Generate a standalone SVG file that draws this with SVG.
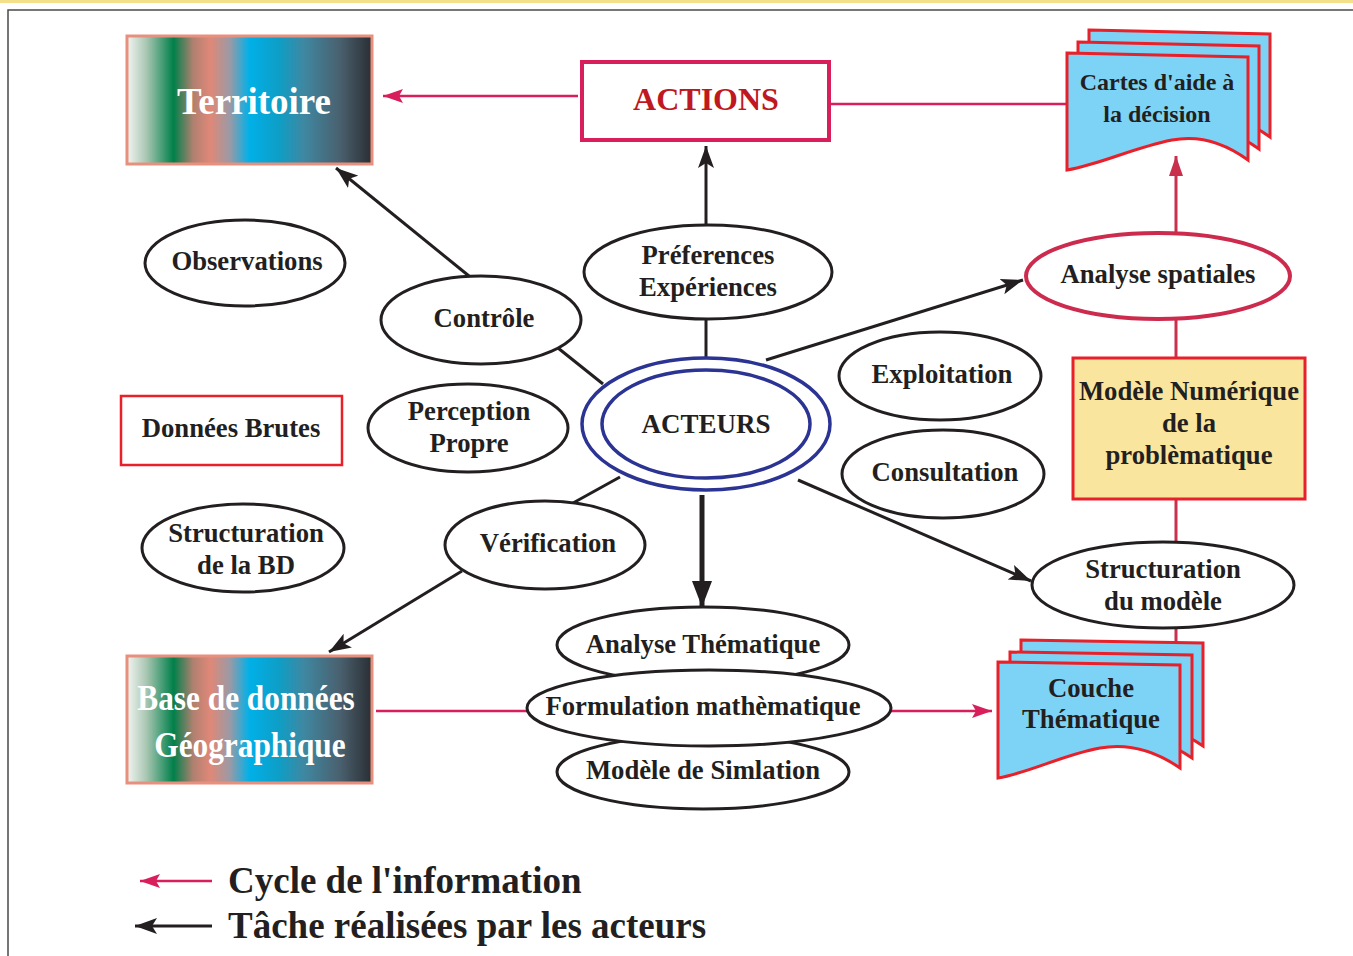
<svg xmlns="http://www.w3.org/2000/svg" width="1353" height="956" viewBox="0 0 1353 956">
<defs>
<linearGradient id="grad" x1="0" y1="0" x2="1" y2="0">
<stop offset="0" stop-color="#f2f5f2"/>
<stop offset="0.08" stop-color="#a8c6b2"/>
<stop offset="0.19" stop-color="#00804a"/>
<stop offset="0.27" stop-color="#b08070"/>
<stop offset="0.34" stop-color="#e08878"/>
<stop offset="0.42" stop-color="#9a9aa6"/>
<stop offset="0.5" stop-color="#00b0e8"/>
<stop offset="0.62" stop-color="#0e9ec6"/>
<stop offset="0.72" stop-color="#3e88a2"/>
<stop offset="0.87" stop-color="#4a606e"/>
<stop offset="1" stop-color="#2a2e33"/>
</linearGradient>
<marker id="ab" markerUnits="userSpaceOnUse" markerWidth="24" markerHeight="18" refX="22" refY="9" orient="auto">
<path d="M0,1 L22,9 L0,17 L5,9 Z" fill="#231f20"/>
</marker>
<marker id="abig" markerUnits="userSpaceOnUse" markerWidth="28" markerHeight="22" refX="26" refY="11" orient="auto">
<path d="M0,1 L26,11 L0,21 Z" fill="#231f20"/>
</marker>
<marker id="ap" markerUnits="userSpaceOnUse" markerWidth="22" markerHeight="16" refX="20" refY="8" orient="auto">
<path d="M0,1 L20,8 L0,15 L4,8 Z" fill="#d81e5b"/>
</marker>
<marker id="ac" markerUnits="userSpaceOnUse" markerWidth="22" markerHeight="18" refX="20" refY="9" orient="auto">
<path d="M0,2 L20,9 L0,16 Z" fill="#c8304e"/>
</marker>
<path id="sheetC" d="M1067,53 L1248,57 L1248,160 C1222,141 1198,135 1172,140 C1132,148 1102,164 1067,170 Z"/>
<path id="sheetT" d="M998,662 L1180,665 L1180,768 C1154,750 1128,743 1100,748 C1062,755 1032,772 998,778 Z"/>
</defs>
<style>
text{font-family:"Liberation Serif","Times New Roman",serif;font-weight:bold;fill:#231f20;text-anchor:middle}
.el{fill:#fff;stroke:#231f20;stroke-width:3}
.t{font-size:26.7px}
.sheet{fill:#7dd3f5;stroke:#e8202a;stroke-width:3;stroke-linejoin:miter}
.blk{stroke:#231f20;stroke-width:3;fill:none}
.pk{stroke:#d81e5b;stroke-width:2.5;fill:none}
.cr{stroke:#c8304e;stroke-width:3;fill:none}
.w{fill:#fff}
</style>
<rect x="0" y="0" width="1353" height="3" fill="#f5e08a"/>
<path d="M8,956 L8,10 L1353,10" fill="none" stroke="#4a4a4a" stroke-width="1.5"/>

<g id="connectors">
<line class="pk" x1="578" y1="96" x2="383" y2="96" marker-end="url(#ap)"/>
<line class="pk" x1="829" y1="104" x2="1068" y2="104"/>
<line class="cr" x1="1176" y1="232" x2="1176" y2="156" marker-end="url(#ac)"/>
<line class="cr" x1="1176" y1="319" x2="1176" y2="358"/>
<line class="cr" x1="1176" y1="499" x2="1176" y2="545"/>
<line class="cr" x1="1176" y1="626" x2="1176" y2="642"/>
<line class="pk" x1="376" y1="711" x2="528" y2="711"/>
<line class="pk" x1="891" y1="711" x2="992" y2="711" marker-end="url(#ap)"/>
<line class="blk" x1="706" y1="320" x2="706" y2="358"/>
<line class="blk" x1="706" y1="225" x2="706" y2="146" marker-end="url(#ab)"/>
<line class="blk" x1="558" y1="348" x2="603" y2="384"/>
<line class="blk" x1="469" y1="276" x2="336" y2="168" marker-end="url(#ab)"/>
<line class="blk" x1="620" y1="477" x2="573" y2="503"/>
<line class="blk" x1="462" y1="571" x2="329" y2="652" marker-end="url(#ab)"/>
<line class="blk" x1="766" y1="360" x2="1023" y2="280" marker-end="url(#ab)"/>
<line class="blk" x1="798" y1="480" x2="1031" y2="581" marker-end="url(#ab)"/>
<line x1="702" y1="495" x2="702" y2="607" stroke="#231f20" stroke-width="5" marker-end="url(#abig)"/>
</g>

<g id="territoire">
<rect x="127" y="36" width="245" height="128" fill="url(#grad)" stroke="#e8907e" stroke-width="3"/>
<text class="w" x="254" y="114" style="font-size:37px">Territoire</text>
</g>

<g id="actions">
<rect x="582" y="62" width="247" height="78" fill="#fff" stroke="#d81e5b" stroke-width="4"/>
<text x="706" y="110" style="font-size:32px;fill:#c01820">ACTIONS</text>
</g>

<g id="cartes">
<use href="#sheetC" class="sheet" transform="translate(22,-23)"/>
<use href="#sheetC" class="sheet" transform="translate(11,-11)"/>
<use href="#sheetC" class="sheet"/>
<text x="1157" y="90" style="font-size:24px">Cartes d'aide à</text>
<text x="1157" y="122" style="font-size:24px">la décision</text>
</g>

<g id="analyse-spatiales">
<ellipse cx="1158" cy="276" rx="132" ry="43" fill="#fff" stroke="#cc2b4e" stroke-width="4"/>
<text class="t" x="1158" y="283">Analyse spatiales</text>
</g>

<g id="modele-numerique">
<rect x="1073" y="358" width="232" height="141" fill="#f9e59e" stroke="#e8202a" stroke-width="3"/>
<text class="t" x="1189" y="400">Modèle Numérique</text>
<text class="t" x="1189" y="432">de la</text>
<text class="t" x="1189" y="464">problèmatique</text>
</g>

<g id="structuration-modele">
<ellipse class="el" cx="1163" cy="585" rx="131" ry="43" stroke-width="3.5"/>
<text class="t" x="1163" y="578">Structuration</text>
<text class="t" x="1163" y="610">du modèle</text>
</g>

<g id="couche">
<use href="#sheetT" class="sheet" transform="translate(23,-22)"/>
<use href="#sheetT" class="sheet" transform="translate(12,-10)"/>
<use href="#sheetT" class="sheet"/>
<text class="t" x="1091" y="697">Couche</text>
<text class="t" x="1091" y="728">Thématique</text>
</g>

<g id="base">
<rect x="127" y="656" width="245" height="127" fill="url(#grad)" stroke="#e8907e" stroke-width="3"/>
<text class="w" transform="translate(246,710) scale(0.87,1)" x="0" y="0" style="font-size:36px">Base de données</text>
<text class="w" transform="translate(250,757) scale(0.87,1)" x="0" y="0" style="font-size:36px">Géographique</text>
</g>

<g id="observations">
<ellipse class="el" cx="245" cy="263" rx="100" ry="43"/>
<text class="t" x="247" y="270">Observations</text>
</g>

<g id="controle">
<ellipse class="el" cx="481" cy="320" rx="100" ry="44"/>
<text class="t" x="484" y="327">Contrôle</text>
</g>

<g id="preferences">
<ellipse class="el" cx="708" cy="272" rx="124" ry="47" stroke-width="3.5"/>
<text class="t" x="708" y="264">Préferences</text>
<text class="t" x="708" y="296">Expériences</text>
</g>

<g id="perception">
<ellipse class="el" cx="468" cy="428" rx="100" ry="44"/>
<text class="t" x="469" y="420">Perception</text>
<text class="t" x="469" y="452">Propre</text>
</g>

<g id="donnees-brutes">
<rect x="121" y="396" width="221" height="69" fill="#fff" stroke="#e8202a" stroke-width="2.5"/>
<text class="t" x="231" y="437">Données Brutes</text>
</g>

<g id="acteurs">
<ellipse cx="706" cy="424" rx="124" ry="66" fill="#fff" stroke="#2b3393" stroke-width="3.5"/>
<ellipse cx="706" cy="424" rx="104" ry="54" fill="none" stroke="#2b3393" stroke-width="3.5"/>
<text x="706" y="433" style="font-size:27px">ACTEURS</text>
</g>

<g id="exploitation">
<ellipse class="el" cx="940" cy="376" rx="101" ry="44"/>
<text class="t" x="942" y="383">Exploitation</text>
</g>

<g id="consultation">
<ellipse class="el" cx="943" cy="474" rx="101" ry="44"/>
<text class="t" x="945" y="481">Consultation</text>
</g>

<g id="structuration-bd">
<ellipse class="el" cx="243" cy="548" rx="101" ry="44"/>
<text class="t" x="246" y="542">Structuration</text>
<text class="t" x="246" y="574">de la BD</text>
</g>

<g id="verification">
<ellipse class="el" cx="545" cy="545" rx="100" ry="44"/>
<text class="t" x="548" y="552">Vérification</text>
</g>

<g id="analyse-thematique">
<ellipse class="el" cx="703" cy="645" rx="146" ry="38" stroke-width="3.5"/>
<text class="t" x="703" y="653">Analyse Thématique</text>
</g>

<g id="modele-simulation">
<ellipse class="el" cx="703" cy="772" rx="146" ry="37" stroke-width="3.5"/>
<text class="t" x="703" y="779">Modèle de Simlation</text>
</g>

<g id="formulation">
<ellipse class="el" cx="709" cy="708" rx="182" ry="38" stroke-width="3.5"/>
<text class="t" x="703" y="715">Formulation mathèmatique</text>
</g>

<g id="legend">
<line class="pk" x1="212" y1="881" x2="140" y2="881" marker-end="url(#ap)"/>
<line class="blk" x1="212" y1="926" x2="135" y2="926" stroke-width="2.5" marker-end="url(#ab)"/>
<text x="228" y="893" style="font-size:37px;text-anchor:start">Cycle de l'information</text>
<text x="228" y="938" style="font-size:37px;text-anchor:start">Tâche réalisées par les acteurs</text>
</g>
</svg>
